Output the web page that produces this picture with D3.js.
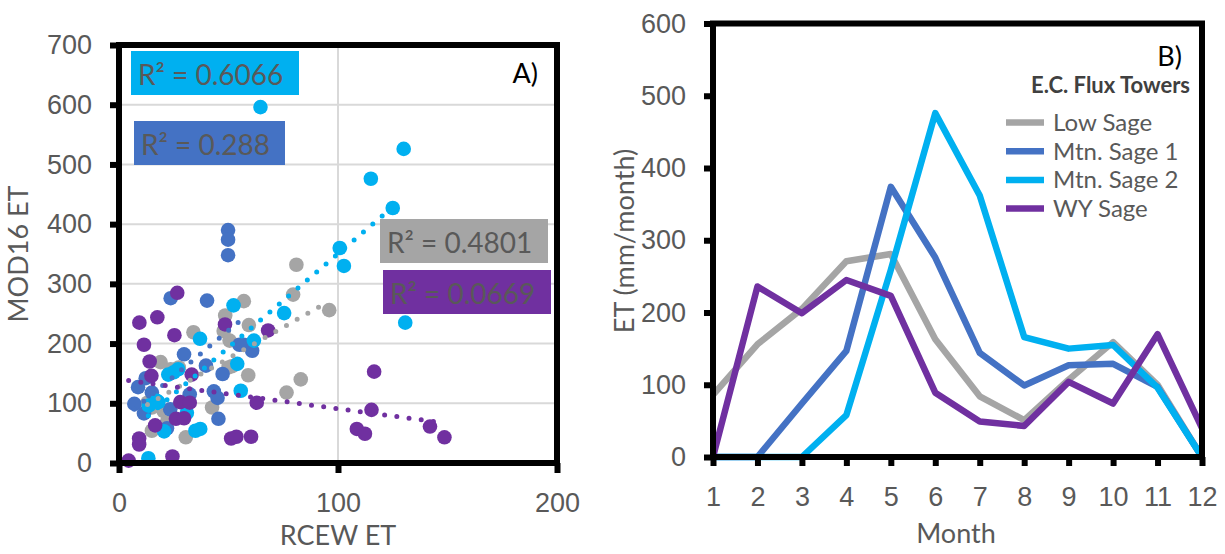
<!DOCTYPE html>
<html lang="en">

<head>
    <meta charset="utf-8">
    <title>MOD16 vs RCEW ET</title>
    <script src="https://cdn.jsdelivr.net/npm/d3@7/dist/d3.min.js"></script>
    <style>
        body {
            margin: 0;
            background: #fff;
        }

        svg {
            display: block;
            font-family: Lato, "Open Sans", sans-serif;
        }

        .axis text {
            fill: #595959;
            font-size: 27px;
        }

        .axis .domain {
            display: none;
        }

        .axis line {
            stroke: #000;
            stroke-width: 6px;
        }
    </style>
</head>

<body>
    <div id="infoviz"></div>
    <script type="text/javascript">
        // ---- panel A: scatter, [RCEW ET, MOD16 ET]
        var lowSage = [[81, 332], [79.5, 282], [96, 256], [57, 271], [48.5, 247], [59.3, 231], [34, 219], [47.8, 221],
            [50.5, 205], [51.5, 162], [59, 147], [83, 140], [76.5, 118], [42.5, 93], [30.5, 43], [19, 169], [23.6, 157],
            [27.3, 160], [15, 54], [20.4, 87], [15, 93], [13, 101], [50, 160], [22, 70]];
        var mtnSage1 = [[49.8, 390], [49.8, 374], [49.8, 348], [23.6, 276], [40.2, 272], [29.7, 182], [39.7, 163],
            [47.3, 149], [60.8, 188], [55, 198], [43.3, 120], [45.4, 74], [7, 99], [8.7, 127], [12.2, 142], [11.4, 83],
            [32.3, 115], [45, 109], [15, 118], [23.4, 90], [21.9, 58], [57, 198]];
        var mtnSage2 = [[64.6, 596], [130, 526], [115, 476], [125, 427], [100.8, 360], [102.7, 330], [75.4, 251],
            [130.7, 235], [52.3, 264], [61.6, 205], [37, 208], [54, 166], [55.6, 121], [22.5, 148], [25, 152], [18, 102],
            [13.6, 96], [20.6, 53], [34.9, 54], [37.1, 57], [13.4, 8], [31, 84], [17.3, 104], [27, 157]];
        var wySage = [[26.6, 285], [17.5, 244], [9.3, 235], [25.3, 214], [11.4, 198], [48.4, 232], [68.1, 222],
            [14, 170], [14.8, 146], [33.2, 148], [28, 102], [32.3, 101], [62.9, 101], [26, 74], [29.7, 75], [16.5, 63],
            [9.2, 41], [9.2, 31], [4.4, 4], [24.4, 11], [51.2, 41], [53.6, 44], [60.3, 44], [116.5, 153], [115.3, 89],
            [108.6, 57], [112.3, 49], [142, 61], [148.6, 43]];

        // linear trendlines, end points
        var lowSageTrend = [[13, 98], [95, 269]];
        var mtnSage1Trend = [[7, 90], [58.5, 248]];
        var mtnSage2Trend = [[13.4, 79], [128, 438]];
        var wySageTrend = [[4.4, 138], [148.6, 67]];

        var r2Text = ['R\u00B2 = 0.4801', 'R\u00B2 = 0.288', 'R\u00B2 = 0.6066', 'R\u00B2 = 0.0669'];

        // ---- panel B: monthly ET (mm/month)
        var months = [1, 2, 3, 4, 5, 6, 7, 8, 9, 10, 11, 12];
        var lowSageMonthly = [86, 156, 205, 271, 281, 163, 84, 51, 107, 159, 100, 0];
        var mtnSage1Monthly = [0, 0, 74, 147, 374, 276, 144, 99, 127, 129, 97, 0];
        var mtnSage2Monthly = [0, 0, 0, 58, 259, 476, 362, 166, 150, 155, 96, 0];
        var wySageMonthly = [0, 236, 199, 245, 223, 89, 49, 43, 104, 74, 170, 40];

        var seriesNames = ['Low Sage', 'Mtn. Sage 1', 'Mtn. Sage 2', 'WY Sage'];
        var colors = ['#A5A5A5', '#4472C4', '#00B0F0', '#7030A0'];

        var svg = d3.select('#infoviz')
            .append('svg')
            .attr('width', 1225)
            .attr('height', 554);

        // ================= panel A =================
        var xA = d3.scaleLinear().domain([0, 200]).range([119, 557]);
        var yA = d3.scaleLinear().domain([0, 700]).range([463, 45]);

        var gA = svg.append('g');

        // grid
        gA.selectAll('.hgrid')
            .data(d3.range(100, 700, 100))
            .enter()
            .append('line')
            .attr('x1', xA(0)).attr('x2', xA(200))
            .attr('y1', (d) => yA(d)).attr('y2', (d) => yA(d))
            .attr('stroke', '#D9D9D9')
            .attr('stroke-width', 2);
        gA.append('line')
            .attr('x1', xA(100)).attr('x2', xA(100))
            .attr('y1', yA(0)).attr('y2', yA(700))
            .attr('stroke', '#D9D9D9')
            .attr('stroke-width', 2);

        var scatterSets = [lowSage, mtnSage1, mtnSage2, wySage];
        scatterSets.forEach((set, i) => {
            gA.append('g')
                .selectAll('circle')
                .data(set)
                .enter()
                .append('circle')
                .attr('cx', (d) => xA(d[0]))
                .attr('cy', (d) => yA(d[1]))
                .attr('r', 7.3)
                .attr('fill', colors[i]);
        });

        var trendLine = d3.line()
            .x((d) => xA(d[0]))
            .y((d) => yA(d[1]));
        [lowSageTrend, mtnSage1Trend, mtnSage2Trend, wySageTrend].forEach((t, i) => {
            gA.append('path')
                .attr('d', trendLine(t))
                .attr('fill', 'none')
                .attr('stroke', colors[i])
                .attr('stroke-width', 5)
                .attr('stroke-linecap', 'round')
                .attr('stroke-dasharray', '0 12.3');
        });

        // frame + axes
        gA.append('rect')
            .attr('x', xA(0)).attr('y', yA(700))
            .attr('width', xA(200) - xA(0))
            .attr('height', yA(0) - yA(700))
            .attr('fill', 'none')
            .attr('stroke', '#000')
            .attr('stroke-width', 6);

        gA.append('g')
            .attr('class', 'axis')
            .attr('transform', `translate(${xA(0)}, 0)`)
            .call(d3.axisLeft(yA).tickValues(d3.range(0, 701, 100)).tickSize(9).tickPadding(18));
        gA.append('g')
            .attr('class', 'axis')
            .attr('transform', `translate(0, ${yA(0)})`)
            .call(d3.axisBottom(xA).tickValues([0, 100, 200]).tickSize(10).tickPadding(20));

        // R² boxes (order: low, mtn1, mtn2, wy)
        var r2Boxes = [[380, 219, 168, 44], [134, 121, 151, 44], [131, 51, 168, 44], [383, 270, 168, 44]];
        r2Boxes.forEach((b, i) => {
            gA.append('rect')
                .attr('x', b[0]).attr('y', b[1])
                .attr('width', b[2]).attr('height', b[3])
                .attr('fill', colors[i]);
            gA.append('text')
                .attr('x', b[0] + 7).attr('y', b[1] + 34)
                .attr('fill', '#595959')
                .attr('font-size', 28)
                .text(r2Text[i]);
        });

        gA.append('text')
            .attr('x', 538).attr('y', 83)
            .attr('text-anchor', 'end')
            .attr('font-size', 27)
            .attr('fill', '#000')
            .text('A)');

        gA.append('text')
            .attr('x', 338).attr('y', 545)
            .attr('text-anchor', 'middle')
            .attr('font-size', 27)
            .attr('fill', '#595959')
            .text('RCEW ET');
        gA.append('text')
            .attr('transform', 'translate(28, 254) rotate(-90)')
            .attr('text-anchor', 'middle')
            .attr('font-size', 27)
            .attr('fill', '#595959')
            .text('MOD16 ET');

        // ================= panel B =================
        var xB = d3.scaleLinear().domain([1, 12]).range([713, 1202]);
        var yB = d3.scaleLinear().domain([0, 600]).range([457, 23.5]);

        var gB = svg.append('g');

        var monthLine = d3.line()
            .x((d, i) => xB(months[i]))
            .y((d) => yB(d));

        [lowSageMonthly, mtnSage1Monthly, mtnSage2Monthly, wySageMonthly].forEach((s, i) => {
            gB.append('path')
                .attr('d', monthLine(s))
                .attr('fill', 'none')
                .attr('stroke', colors[i])
                .attr('stroke-width', 6.5)
                .attr('stroke-linejoin', 'round');
        });

        gB.append('rect')
            .attr('x', xB(1)).attr('y', yB(600))
            .attr('width', xB(12) - xB(1))
            .attr('height', yB(0) - yB(600))
            .attr('fill', 'none')
            .attr('stroke', '#000')
            .attr('stroke-width', 6);

        gB.append('g')
            .attr('class', 'axis')
            .attr('transform', `translate(${xB(1)}, 0)`)
            .call(d3.axisLeft(yB).tickValues(d3.range(0, 601, 100)).tickSize(9).tickPadding(18));
        gB.append('g')
            .attr('class', 'axis')
            .attr('transform', `translate(0, ${yB(0)})`)
            .call(d3.axisBottom(xB).tickValues(months).tickFormat(d3.format('d')).tickSize(9).tickPadding(21));

        gB.append('text')
            .attr('x', 956).attr('y', 543)
            .attr('text-anchor', 'middle')
            .attr('font-size', 27)
            .attr('fill', '#595959')
            .text('Month');
        gB.append('text')
            .attr('transform', 'translate(634, 241) rotate(-90)')
            .attr('text-anchor', 'middle')
            .attr('font-size', 27)
            .attr('fill', '#595959')
            .text('ET (mm/month)');

        gB.append('text')
            .attr('x', 1182).attr('y', 66)
            .attr('text-anchor', 'end')
            .attr('font-size', 27)
            .attr('fill', '#000')
            .text('B)');

        // legend
        var legend = gB.append('g');
        legend.append('text')
            .attr('x', 1190).attr('y', 93)
            .attr('text-anchor', 'end')
            .attr('font-size', 22)
            .attr('font-weight', 'bold')
            .attr('fill', '#404040')
            .text('E.C. Flux Towers');
        var rows = legend.selectAll('.row')
            .data(seriesNames)
            .enter()
            .append('g')
            .attr('transform', (d, i) => `translate(1006, ${122.5 + i * 28.7})`);
        rows.append('line')
            .attr('x1', 0).attr('x2', 38)
            .attr('stroke', (d, i) => colors[i])
            .attr('stroke-width', 6.5);
        rows.append('text')
            .attr('x', 47).attr('y', 8.5)
            .attr('font-size', 24)
            .attr('fill', '#595959')
            .text((d) => d);
    </script>
</body>

</html>
